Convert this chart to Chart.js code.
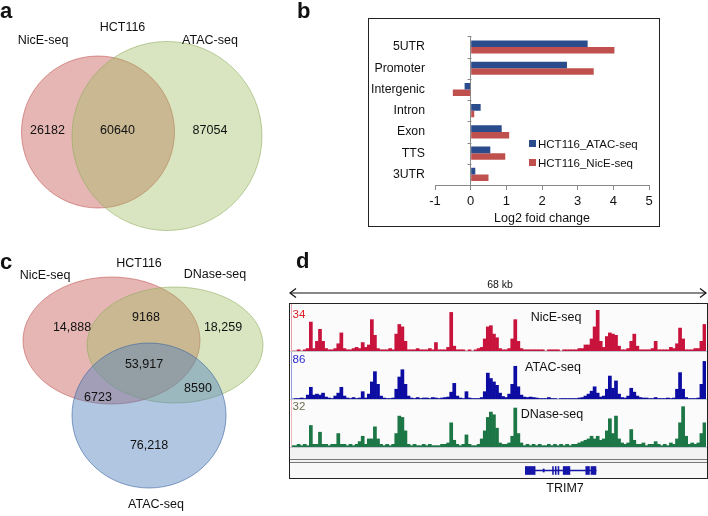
<!DOCTYPE html>
<html>
<head>
<meta charset="utf-8">
<script src="https://cdn.jsdelivr.net/npm/chart.js@4.4.1/dist/chart.umd.min.js"></script>
<style>
  body { margin:0; background:#fff; }
  #page { position:relative; width:708px; height:516px; overflow:hidden; font-family:"Liberation Sans", Arial, sans-serif; color:#111; }
  .abs { position:absolute; }
  .lbl { position:absolute; white-space:nowrap; line-height:1; transform:translate(-50%,-50%); font-size:12.5px; }
  .letter { position:absolute; font-weight:bold; font-size:22px; line-height:1; }
  .sep { position:absolute; left:290px; width:417px; height:1px; }
</style>
</head>
<body>
<div id="page">
  <canvas id="vennA" class="abs" style="left:0;top:0" width="290" height="250"></canvas>
  <div class="abs" style="left:368px;top:18px;width:292px;height:209px;border:1px solid #222;box-sizing:border-box"></div>
  <canvas id="bars" class="abs" style="left:369px;top:19px" width="290" height="207"></canvas>
  <canvas id="vennC" class="abs" style="left:0;top:250px" width="290" height="266"></canvas>

  <svg class="abs" style="left:286px;top:286px" width="422" height="14">
    <line x1="4" y1="7" x2="420" y2="7" stroke="#111" stroke-width="1"/>
    <polyline points="10,2.5 4,7 10,11.5" fill="none" stroke="#111" stroke-width="1.2"/>
    <polyline points="414,2.5 420,7 414,11.5" fill="none" stroke="#111" stroke-width="1.2"/>
  </svg>
  <div class="abs" style="left:289px;top:303px;width:419px;height:176px;border:1px solid #222;box-sizing:border-box;background:#f2f2f2"></div>
  <div class="abs" style="left:290px;top:304px;width:417px;height:143px;background:#fbfbfb"></div>
  <div class="abs" style="left:290px;top:463px;width:417px;height:15px;background:#f8f8f8"></div>
  <canvas id="trNice" class="abs" style="left:291px;top:304px" width="415" height="47"></canvas>
  <canvas id="trAtac" class="abs" style="left:291px;top:352px" width="415" height="47"></canvas>
  <canvas id="trDnase" class="abs" style="left:291px;top:400px" width="415" height="47"></canvas>
  <div class="sep" style="top:351px;background:#c4c8d0"></div>
  <div class="sep" style="top:399px;background:#c4c8d0"></div>
  <div class="sep" style="top:447px;background:#c4c8d0"></div>
  <div class="sep" style="top:459px;background:#777"></div>
  <div class="sep" style="top:462px;background:#777"></div>
  <div class="abs" style="left:291px;top:304px;width:1px;height:47px;background:#e8a0ac"></div>
  <div class="abs" style="left:291px;top:352px;width:1px;height:47px;background:#9a9ae0"></div>
  <div class="abs" style="left:291px;top:400px;width:1px;height:47px;background:#e8b8bc"></div>
  <canvas id="gene" class="abs" style="left:291px;top:463px" width="415" height="15"></canvas>
</div>
<script>
// ---- panel a: two-set overlap
const vennASets = ['NicE-seq', 'ATAC-seq'];
const vennACounts = [26182, 60640, 87054]; // NicE only, both, ATAC only

// ---- panel b: log2 fold change by genomic feature
const categories = ['5UTR', 'Promoter', 'Intergenic', 'Intron', 'Exon', 'TTS', '3UTR'];
const atacLog2 = [3.28, 2.70, -0.17, 0.28, 0.87, 0.55, 0.13];
const niceLog2 = [4.03, 3.45, -0.50, 0.10, 1.08, 0.97, 0.50];
const seriesNames = ['HCT116_ATAC-seq', 'HCT116_NicE-seq'];

// ---- panel c: three-set overlap
const vennCSets = ['NicE-seq', 'DNase-seq', 'ATAC-seq'];
// NicE only, NicE+DNase, DNase only, all three, NicE+ATAC, DNase+ATAC, ATAC only
const vennCCounts = ['14,888', '9168', '18,259', '53,917', '6723', '8590', '76,218'];

// ---- panel d: signal tracks over 68 kb, 0.5 kb bins
const trackMax = [34, 86, 32];
const niceSignal = [0,0,1,0,1,2,24,2,8,18,
  8,2,1,1,2,6,15,2,1,1,
  2,3,2,7,3,5,26,13,2,1,
  1,1,2,1,14,22,20,8,1,1,
  1,2,1,1,1,2,1,7,1,1,
  1,3,32,4,1,1,1,0,1,0,
  1,2,3,10,20,21,14,11,2,1,
  1,2,10,26,8,2,1,1,1,1,
  1,1,1,0,1,1,1,1,0,1,
  1,1,1,1,2,2,5,5,10,20,
  34,8,3,12,15,14,13,4,1,1,
  2,8,14,4,1,1,1,1,2,8,
  1,1,1,1,3,2,6,19,10,1,
  1,1,2,2,8,22];
const atacSignal = [0,1,1,2,1,8,24,8,10,8,
  12,4,2,1,6,12,24,6,2,1,
  3,1,2,15,2,10,35,56,30,6,
  2,1,1,2,20,45,60,30,6,2,
  1,3,1,2,2,1,3,2,1,2,
  3,4,14,32,6,2,1,15,2,1,
  1,1,3,15,53,42,35,28,12,5,
  3,10,30,67,25,8,4,3,4,3,
  2,1,1,1,3,1,1,0,1,1,
  1,1,1,1,2,3,6,10,16,25,
  12,4,6,20,47,22,37,10,3,2,
  6,22,14,6,3,2,2,1,1,3,
  1,1,1,2,1,2,20,54,20,3,
  1,1,1,2,30,77];
const dnaseSignal = [1,1,2,1,2,1,16,2,2,11,
  2,2,1,2,2,10,2,2,1,2,
  1,2,4,8,2,6,6,15,6,2,
  1,2,1,2,10,23,22,12,2,1,
  2,1,1,2,1,2,1,1,1,2,
  2,3,18,5,2,1,2,9,2,1,
  1,2,6,12,22,26,24,14,3,2,
  2,3,8,29,10,3,1,2,1,2,
  1,2,1,1,2,1,2,1,2,1,
  2,1,2,2,3,4,5,6,8,6,
  8,5,6,12,21,10,23,6,3,2,
  3,13,5,2,2,3,1,2,2,4,
  2,1,2,1,3,2,6,18,30,8,
  2,3,2,3,10,18];
const binLabels = niceSignal.map((v, i) => (i * 0.5).toFixed(1));

// TRIM7 gene model (kb)
const geneSpan = [38.4, 50.0];
const exonStarts = [38.4, 42.85, 43.3, 43.75, 44.6, 48.3, 49.15];
const exonEnds   = [40.0, 43.0, 43.45, 43.9, 45.7, 48.9, 49.97];
const utrDot = [41.3, 41.5];

Chart.defaults.font.family = '"Liberation Sans", Arial, sans-serif';
Chart.defaults.color = '#111';

const page = document.getElementById('page');
function addText(txt, x, y, css) {
  const d = document.createElement('div');
  d.className = 'lbl';
  d.textContent = txt;
  d.style.left = x + 'px';
  d.style.top = y + 'px';
  if (css) d.style.cssText += css;
  page.appendChild(d);
}
function addLetter(txt, x, y) {
  const d = document.createElement('div');
  d.className = 'letter';
  d.textContent = txt;
  d.style.left = x + 'px';
  d.style.top = y + 'px';
  page.appendChild(d);
}

// ellipses drawn in data units via the chart's scales
function ellipses(items) {
  return {
    id: 'ellipses',
    beforeDatasetsDraw(chart) {
      const { ctx, scales: { x, y } } = chart;
      items.forEach(e => {
        const cx = x.getPixelForValue(e.cx), cy = y.getPixelForValue(e.cy);
        const rx = Math.abs(x.getPixelForValue(e.cx + e.rx) - cx);
        const ry = Math.abs(y.getPixelForValue(e.cy + e.ry) - cy);
        ctx.save();
        ctx.beginPath();
        ctx.ellipse(cx, cy, rx, ry, 0, 0, Math.PI * 2);
        ctx.fillStyle = e.fill;
        ctx.fill();
        ctx.strokeStyle = e.stroke;
        ctx.lineWidth = 1;
        ctx.stroke();
        ctx.restore();
      });
    }
  };
}

function vennChart(id, w, h, items) {
  return new Chart(document.getElementById(id), {
    type: 'scatter',
    data: { datasets: [{ data: items.map(e => ({ x: e.cx, y: e.cy })), pointRadius: 0 }] },
    options: {
      responsive: false, animation: false,
      layout: { padding: 0 },
      plugins: { legend: { display: false }, tooltip: { enabled: false } },
      scales: {
        x: { type: 'linear', min: 0, max: w, display: false },
        y: { type: 'linear', min: 0, max: h, reverse: true, display: false }
      }
    },
    plugins: [ellipses(items)]
  });
}

const pink = { fill: 'rgba(192,80,77,0.42)', stroke: 'rgba(192,80,77,0.55)' };
const green = { fill: 'rgba(155,187,89,0.38)', stroke: 'rgba(140,170,90,0.55)' };
const blue = { fill: 'rgba(79,129,189,0.45)', stroke: 'rgba(60,100,160,0.6)' };

vennChart('vennA', 290, 250, [
  { cx: 98, cy: 132, rx: 76.5, ry: 76, ...pink },
  { cx: 167, cy: 136, rx: 95, ry: 94.5, ...green }
]);
vennChart('vennC', 290, 266, [
  { cx: 111.5, cy: 90.5, rx: 88.5, ry: 63.5, ...pink },
  { cx: 175, cy: 95, rx: 88, ry: 58, ...green },
  { cx: 149, cy: 165.5, rx: 77, ry: 72.5, ...blue }
]);

addLetter('a', 0, 0);
addText('HCT116', 122.5, 27);
addText(vennASets[0], 43, 39.5);
addText(vennASets[1], 210, 39.5);
const vennAPos = [[47.5, 130], [117.5, 130], [210, 130]];
vennACounts.forEach((c, i) => addText(String(c), vennAPos[i][0], vennAPos[i][1]));

addLetter('c', 0, 251);
addText('HCT116', 139, 263);
addText(vennCSets[0], 45, 275);
addText(vennCSets[1], 215, 274);
addText(vennCSets[2], 156, 504);
const vennCPos = [[72, 327], [146, 317], [223, 327], [144, 364], [98, 397], [198, 388], [149, 445]];
vennCCounts.forEach((c, i) => addText(c, vennCPos[i][0], vennCPos[i][1]));

// ---- panel b chart
const barColors = ['#2b4c8c', '#c0504d'];
const zeroTicks = {
  id: 'zeroTicks',
  afterDatasetsDraw(chart) {
    const { ctx, scales: { x, y } } = chart;
    const x0 = Math.round(x.getPixelForValue(0)) + 0.5;
    const band = y.getPixelForValue(1) - y.getPixelForValue(0);
    ctx.save();
    ctx.strokeStyle = '#8a8a8a';
    ctx.lineWidth = 1;
    for (let i = 0; i <= categories.length; i++) {
      const py = Math.round(y.getPixelForValue(0) - band / 2 + i * band) + 0.5;
      ctx.beginPath();
      ctx.moveTo(x0 - 4, py);
      ctx.lineTo(x0, py);
      ctx.stroke();
    }
    ctx.restore();
  }
};
new Chart(document.getElementById('bars'), {
  type: 'bar',
  data: {
    labels: categories,
    datasets: [
      { label: seriesNames[0], data: atacLog2, backgroundColor: barColors[0], barPercentage: 1, categoryPercentage: 0.62 },
      { label: seriesNames[1], data: niceLog2, backgroundColor: barColors[1], barPercentage: 1, categoryPercentage: 0.62 }
    ]
  },
  options: {
    indexAxis: 'y', responsive: false, animation: false,
    layout: { padding: { left: 0, right: 10, top: 12, bottom: 0 } },
    plugins: { legend: { display: false }, tooltip: { enabled: false } },
    scales: {
      x: {
        min: -1, max: 5,
        ticks: { stepSize: 1, font: { size: 13 }, color: '#111', padding: 4 },
        grid: {
          color: c => (c.tick && c.tick.value === 0) ? '#8a8a8a' : 'rgba(0,0,0,0)',
          tickColor: '#8a8a8a', tickLength: 5
        },
        border: { color: '#8a8a8a' },
        title: { display: true, text: 'Log2 foid change', font: { size: 12.5 }, color: '#111', padding: { top: 0, bottom: 0 } },
        afterFit: s => { s.height = 41; }
      },
      y: {
        ticks: { font: { size: 12.3 }, color: '#111', padding: 10 },
        grid: { display: false, drawTicks: false },
        border: { display: false },
        afterFit: s => { s.width = 66; }
      }
    }
  },
  plugins: [zeroTicks]
});
addLetter('b', 297, 0);
seriesNames.forEach((name, i) => {
  const sw = document.createElement('div');
  sw.className = 'abs';
  sw.style.cssText = `left:529px;top:${140 + i * 19.3}px;width:7px;height:7px;background:${barColors[i]}`;
  page.appendChild(sw);
  const t = document.createElement('div');
  t.className = 'abs';
  t.textContent = name;
  t.style.cssText = `left:538px;top:${137.5 + i * 19.3}px;font-size:11.5px;line-height:12px;white-space:nowrap`;
  page.appendChild(t);
});

// ---- panel d tracks
function trackChart(id, values, max, color, padTop) {
  return new Chart(document.getElementById(id), {
    type: 'bar',
    data: { labels: binLabels, datasets: [{ data: values, backgroundColor: color, barPercentage: 1, categoryPercentage: 1, borderWidth: 0 }] },
    options: {
      responsive: false, animation: false,
      layout: { padding: { top: padTop, left: 0, right: 0, bottom: 0 } },
      plugins: { legend: { display: false }, tooltip: { enabled: false } },
      scales: { x: { display: false }, y: { display: false, min: 0, max: max } }
    }
  });
}
trackChart('trNice', niceSignal, trackMax[0], '#c8143c', 6);
trackChart('trAtac', atacSignal, trackMax[1], '#0c0ca2', 5);
trackChart('trDnase', dnaseSignal, trackMax[2], '#1d7645', 4);

new Chart(document.getElementById('gene'), {
  type: 'bar',
  data: {
    labels: ['TRIM7'],
    datasets: [
      { data: [{ x: geneSpan, y: 'TRIM7' }], backgroundColor: '#1616a8', barThickness: 1, grouped: false },
      { data: [{ x: utrDot, y: 'TRIM7' }], backgroundColor: '#1616a8', barThickness: 3, grouped: false },
      { data: exonStarts.map((s, i) => ({ x: [s, exonEnds[i]], y: 'TRIM7' })), backgroundColor: '#1616a8', barThickness: 8, grouped: false }
    ]
  },
  options: {
    indexAxis: 'y', responsive: false, animation: false,
    layout: { padding: 0 },
    plugins: { legend: { display: false }, tooltip: { enabled: false } },
    scales: { x: { type: 'linear', min: 0, max: 68, display: false }, y: { display: false } }
  }
});

addLetter('d', 296, 250);
addText('68 kb', 500, 283.5, 'font-size:10.5px');
addText('NicE-seq', 556, 317);
addText('ATAC-seq', 553, 367);
addText('DNase-seq', 552, 413.5);
addText('TRIM7', 565, 488);
addText(String(trackMax[0]), 299, 315, 'font-size:11.5px;color:#e01c24');
addText(String(trackMax[1]), 299, 360, 'font-size:11.5px;color:#2a2ad0');
addText(String(trackMax[2]), 299, 407, 'font-size:11.5px;color:#6e6e50');
</script>
</body>
</html>
